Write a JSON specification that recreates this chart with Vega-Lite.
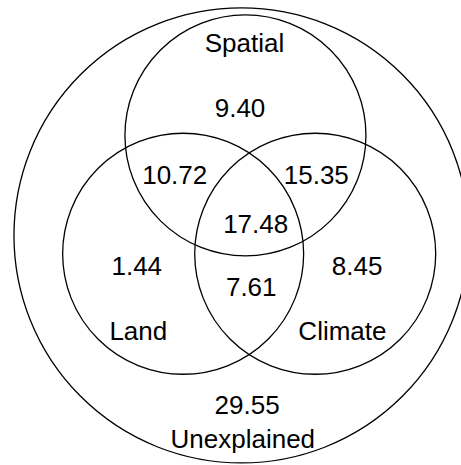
{
  "$schema": "https://vega.github.io/schema/vega-lite/v6.json",
  "width": 461,
  "height": 465,
  "autosize": {"type": "none"},
  "padding": 0,
  "background": "white",
  "config": {"view": {"stroke": null}},
  "datasets": {
    "circles": [
      {"set": "All", "cx": 0, "cy": 0, "r": 1.888},
      {"set": "Spatial", "cx": 0.033, "cy": 0.83, "r": 1},
      {"set": "Land", "cx": -0.484, "cy": -0.152, "r": 1},
      {"set": "Climate", "cx": 0.612, "cy": -0.152, "r": 1}
    ],
    "labels": [
      {"label": "Spatial", "x": 0.025, "y": 1.589},
      {"label": "9.40", "x": -0.012, "y": 1.046},
      {"label": "10.72", "x": -0.554, "y": 0.49},
      {"label": "15.35", "x": 0.621, "y": 0.49},
      {"label": "17.48", "x": 0.118, "y": 0.089},
      {"label": "1.44", "x": -0.869, "y": -0.26},
      {"label": "7.61", "x": 0.081, "y": -0.437},
      {"label": "8.45", "x": 0.96, "y": -0.26},
      {"label": "Land", "x": -0.856, "y": -0.803},
      {"label": "Climate", "x": 0.838, "y": -0.803},
      {"label": "29.55", "x": 0.047, "y": -1.412},
      {"label": "Unexplained", "x": 0.011, "y": -1.7}
    ]
  },
  "layer": [
    {
      "data": {"name": "circles"},
      "mark": {"type": "point", "shape": "circle", "filled": false, "stroke": "black", "strokeWidth": 1.3, "opacity": 1, "clip": true},
      "encoding": {
        "x": {"field": "cx", "type": "quantitative", "scale": {"domain": [-2.004, 1.822], "nice": false, "zero": false}, "axis": null},
        "y": {"field": "cy", "type": "quantitative", "scale": {"domain": [-1.905, 1.954], "nice": false, "zero": false}, "axis": null},
        "size": {"field": "r", "type": "quantitative", "scale": {"type": "pow", "exponent": 2, "domain": [0, 2], "range": [0, 232324]}, "legend": null}
      }
    },
    {
      "data": {"name": "labels"},
      "mark": {"type": "text", "align": "center", "baseline": "middle", "font": "Liberation Sans", "fontSize": 26, "color": "black"},
      "encoding": {
        "x": {"field": "x", "type": "quantitative"},
        "y": {"field": "y", "type": "quantitative"},
        "text": {"field": "label", "type": "nominal"}
      }
    }
  ]
}
